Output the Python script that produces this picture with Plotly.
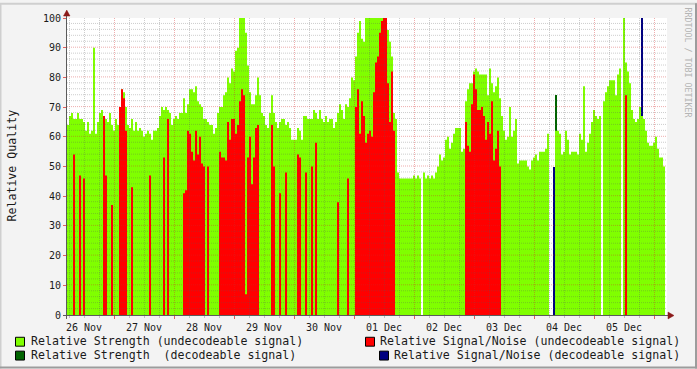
import plotly.graph_objects as go
from datetime import datetime, timedelta

# ---------------- data (one sample every 48 minutes) ----------------
START = datetime(2009, 11, 26, 5, 12)
STEP_MIN = 48

# Relative Strength (undecodeable signal)
strength_undec = [
    64, 67, 68, 66, 66, 68, 66, 66, 65, 62,
    65, 61, 62, 90, 61, 65, 68, 69, 67, 66,
    65, 68, 64, 62, 66, 64, 70, 76, 75, 70,
    64, 63, 66, 62, 65, 62, 63, 62, 60, 61,
    62, 61, 59, 62, 62, 63, 67, 70, 69, 70,
    69, 68, 64, 66, 67, 66, 68, 68, 73, 68,
    71, 76, 76, 75, 77, 72, 71, 70, 66, 66,
    65, 64, 64, 61, 63, 68, 70, 70, 74, 75,
    80, 78, 83, 82, 89, 90, 100, 100, 100, 95,
    84, 75, 71, 71, 74, 80, 74, 68, 67, 64,
    63, 68, 74, 68, 65, 63, 65, 66, 66, 64,
    65, 63, 59, 59, 59, 63, 62, 59, 67, 67,
    66, 66, 66, 69, 68, 66, 69, 66, 65, 67,
    65, 66, 66, 63, 65, 68, 71, 69, 66, 71,
    70, 73, 80, 79, 87, 95, 99, 93, 92, 100,
    100, 100, 100, 100, 100, 100, 100, 100, 100, 100,
    96, 92, 87, 68, 66, 48, 46, 46, 46, 46,
    46, 46, 46, 47, 46, 47, 46, 0, 48, 46,
    47, 46, 47, 46, 48, 50, 54, 52, 53, 59,
    60, 56, 58, 61, 63, 63, 63, 55, 56, 72,
    76, 78, 78, 82, 83, 82, 81, 81, 81, 81,
    74, 83, 78, 75, 77, 80, 73, 67, 62, 59,
    60, 70, 60, 62, 66, 51, 52, 52, 52, 52,
    50, 49, 52, 53, 54, 52, 55, 55, 55, 56,
    61, 0, 0, 0, 62, 62, 61, 54, 55, 62,
    59, 54, 55, 55, 55, 54, 61, 59, 77, 55,
    58, 61, 65, 69, 67, 66, 67, 0, 72, 75,
    77, 79, 79, 79, 74, 81, 83, 0, 100, 85,
    82, 78, 69, 66, 65, 66, 70, 67, 66, 62,
    58, 57, 57, 58, 60, 56, 53, 53, 50,
]

# Relative Signal/Noise (undecodeable signal)
snr_undec = [
    0, 0, 0, 54, 0, 0, 47, 0, 46, 0,
    0, 0, 0, 0, 0, 0, 0, 0, 67, 47,
    0, 0, 37, 0, 0, 0, 70, 76, 73, 62,
    0, 0, 43, 0, 0, 0, 0, 0, 0, 0,
    0, 47, 0, 0, 0, 0, 0, 0, 53, 0,
    66, 0, 0, 0, 0, 0, 0, 0, 41, 42,
    62, 61, 55, 52, 62, 54, 60, 51, 50, 0,
    50, 0, 0, 0, 0, 0, 55, 53, 53, 52,
    65, 59, 66, 66, 61, 64, 72, 76, 74, 7,
    53, 60, 44, 53, 63, 64, 0, 0, 0, 0,
    0, 0, 64, 50, 0, 0, 41, 0, 0, 48,
    0, 0, 0, 0, 0, 54, 53, 0, 0, 48,
    0, 0, 50, 0, 58, 0, 0, 0, 0, 0,
    0, 0, 0, 0, 0, 38, 0, 0, 0, 0,
    46, 0, 0, 0, 70, 76, 61, 72, 67, 58,
    61, 62, 60, 75, 85, 87, 95, 99, 100, 100,
    78, 65, 82, 62, 0, 0, 0, 0, 0, 0,
    0, 0, 0, 0, 0, 0, 0, 0, 0, 0,
    0, 0, 0, 0, 0, 0, 0, 0, 0, 0,
    0, 0, 0, 0, 0, 0, 0, 0, 0, 65,
    57, 55, 71, 81, 76, 69, 69, 70, 67, 59,
    65, 61, 72, 52, 56, 62, 50, 0, 0, 0,
    0, 0, 0, 0, 0, 0, 0, 0, 0, 0,
    0, 0, 0, 0, 0, 0, 0, 0, 0, 0,
    0, 0, 0, 0, 0, 0, 0, 0, 0, 0,
    0, 0, 0, 0, 0, 0, 0, 0, 0, 0,
    0, 0, 0, 0, 0, 0, 0, 0, 0, 0,
    0, 0, 0, 0, 0, 0, 0, 0, 0, 74,
    0, 0, 0, 0, 0, 0, 0, 0, 0, 0,
    0, 0, 0, 0, 0, 0, 0, 0, 0,
]

# Relative Strength (decodeable signal): sample index -> value
strength_dec_idx = [244, 281]
strength_dec_val = [74, 77]

# Relative Signal/Noise (decodeable signal): sample index -> value
snr_dec_idx = [243, 281, 287]
snr_dec_val = [50, 57, 100]

y_ticks = list(range(0, 101, 10))

legend_labels = [
    "Relative Strength (undecodeable signal)",
    "Relative Strength\u00a0 (decodeable signal)",
    "Relative Signal/Noise (undecodeable signal)",
    "Relative Signal/Noise (decodeable signal)",
]

C_LGREEN = "#80FF00"
C_DGREEN = "#006400"
C_RED = "#FF0000"
C_BLUE = "#000080"

# ---------------- helpers ----------------
step = timedelta(minutes=STEP_MIN)


def t(i):
    return START + i * step


def edges(vals):
    xs = [t(i) for i in range(len(vals) + 1)]
    ys = list(vals) + [vals[-1]]
    return xs, ys


W, H = 697, 369
L, R, T, B = 67, 667, 15, 315


def px(x):
    return (x - L) / (R - L)


def py(y):
    return (B - y) / (B - T)


FONT = "DejaVu Sans Mono"

fig = go.Figure()

xs, ys = edges(strength_undec)
fig.add_trace(go.Scatter(x=xs, y=ys, mode="lines", line=dict(width=0, shape="hv"),
                         fill="tozeroy", fillcolor=C_LGREEN, hoverinfo="skip",
                         name=legend_labels[0]))
fig.add_trace(go.Bar(x=[t(i) + step / 2 for i in strength_dec_idx], y=strength_dec_val,
                     width=[step.total_seconds() * 1000] * len(strength_dec_idx),
                     marker=dict(color=C_DGREEN, line=dict(width=0)),
                     name=legend_labels[1]))
xs, ys = edges(snr_undec)
fig.add_trace(go.Scatter(x=xs, y=ys, mode="lines", line=dict(width=0, shape="hv"),
                         fill="tozeroy", fillcolor=C_RED, hoverinfo="skip",
                         name=legend_labels[2]))
fig.add_trace(go.Bar(x=[t(i) + step / 2 for i in snr_dec_idx], y=snr_dec_val,
                     width=[step.total_seconds() * 1000] * len(snr_dec_idx),
                     marker=dict(color=C_BLUE, line=dict(width=0)),
                     name=legend_labels[3]))

x_end = START + timedelta(minutes=24 * (R - L))

shapes = []
# grid (drawn above the data, like rrdtool); shifted half a pixel so 1px lines stay crisp
GRID_MINOR = "rgba(90,90,90,0.30)"
GRID_MAJOR = "rgba(210,40,40,0.38)"
HALF_PX_T = timedelta(minutes=12)
HALF_PX_V = 0.5 / 3.0
day0 = datetime(START.year, START.month, START.day)
k = 1
while True:
    tt = day0 + timedelta(hours=6 * k)
    if tt >= x_end:
        break
    major = (tt.hour == 0)
    xx = tt + HALF_PX_T
    shapes.append(dict(type="line", xref="x", yref="paper", x0=xx, x1=xx, y0=0, y1=1,
                       layer="above",
                       line=dict(color=GRID_MAJOR if major else GRID_MINOR, width=1,
                                 dash="1px,1px")))
    k += 1
for v in range(2, 101, 2):
    major = (v % 10 == 0)
    yy = v + HALF_PX_V
    shapes.append(dict(type="line", xref="paper", yref="y", x0=0, x1=1, y0=yy, y1=yy,
                       layer="above",
                       line=dict(color=GRID_MAJOR if major else GRID_MINOR, width=1,
                                 dash="1px,1px")))

# axes
AX = "#5a5a5a"
ARROW = "#8B1A1A"
shapes.append(dict(type="line", xref="paper", yref="paper", x0=px(66.5), x1=px(66.5),
                   y0=py(319), y1=py(10), layer="above", line=dict(color=AX, width=1)))
shapes.append(dict(type="line", xref="paper", yref="paper", x0=px(63), x1=px(670),
                   y0=py(315.5), y1=py(315.5), layer="above", line=dict(color=AX, width=1)))
shapes.append(dict(type="path", xref="paper", yref="paper", layer="above",
                   path="M {} {} L {} {} L {} {} Z".format(px(63.5), py(13), px(70), py(13),
                                                           px(66.75), py(7)),
                   fillcolor=ARROW, line=dict(color=ARROW, width=0.5)))
shapes.append(dict(type="path", xref="paper", yref="paper", layer="above",
                   path="M {} {} L {} {} L {} {} Z".format(px(668), py(312), px(668), py(319),
                                                           px(674), py(315.5)),
                   fillcolor=ARROW, line=dict(color=ARROW, width=0.5)))

# frame of the image
shapes.append(dict(type="line", xref="paper", yref="paper", x0=px(0), x1=px(697),
                   y0=py(0.5), y1=py(0.5), line=dict(color="#CFCFCF", width=2)))
shapes.append(dict(type="line", xref="paper", yref="paper", x0=px(0.5), x1=px(0.5),
                   y0=py(0), y1=py(369), line=dict(color="#CFCFCF", width=2)))
shapes.append(dict(type="line", xref="paper", yref="paper", x0=px(0), x1=px(697),
                   y0=py(368), y1=py(368), line=dict(color="#9C9C9C", width=2)))
shapes.append(dict(type="line", xref="paper", yref="paper", x0=px(696), x1=px(696),
                   y0=py(0), y1=py(369), line=dict(color="#9C9C9C", width=2)))

# legend boxes
legend_boxes = [(15, 337, C_LGREEN), (15, 351, C_DGREEN), (365, 337, C_RED), (379, 351, C_BLUE)]
for bx, by, col in legend_boxes:
    shapes.append(dict(type="rect", xref="paper", yref="paper", x0=px(bx + 0.5), x1=px(bx + 9.5),
                       y0=py(by + 0.5), y1=py(by + 9.5), fillcolor=col,
                       line=dict(color="#000000", width=1)))

annotations = []
LEG_FONT = dict(family=FONT, size=11.6, color="#1a1a1a")
annotations.append(dict(text=legend_labels[0], xref="paper", yref="paper", x=px(28.5), y=py(341.5),
                        xanchor="left", yanchor="middle", showarrow=False, font=LEG_FONT))
annotations.append(dict(text=legend_labels[1], xref="paper", yref="paper", x=px(28.5), y=py(355.5),
                        xanchor="left", yanchor="middle", showarrow=False, font=LEG_FONT))
annotations.append(dict(text=legend_labels[2], xref="paper", yref="paper", x=px(682), y=py(341.5),
                        xanchor="right", yanchor="middle", showarrow=False, font=LEG_FONT))
annotations.append(dict(text=legend_labels[3], xref="paper", yref="paper", x=px(682), y=py(355.5),
                        xanchor="right", yanchor="middle", showarrow=False, font=LEG_FONT))
annotations.append(dict(text="Relative Quality", xref="paper", yref="paper", x=px(12), y=py(164),
                        xanchor="center", yanchor="middle", textangle=-90, showarrow=False,
                        font=LEG_FONT))
annotations.append(dict(text="RRDTOOL / TOBI OETIKER", xref="paper", yref="paper", x=px(688),
                        y=py(60), xanchor="center", yanchor="middle", textangle=90,
                        showarrow=False, font=dict(family=FONT, size=8.3, color="#B4B4B4")))

fig.update_layout(
    width=W, height=H,
    margin=dict(l=L, r=W - R, t=T, b=H - B, pad=0),
    paper_bgcolor="#F3F3F3",
    plot_bgcolor="#FFFFFF",
    showlegend=False,
    barmode="overlay",
    bargap=0,
    shapes=shapes,
    annotations=annotations,
    font=dict(family=FONT, size=10, color="#1a1a1a"),
)
fig.update_xaxes(
    type="date", range=[START, x_end], showgrid=False, zeroline=False, showline=False,
    tick0=day0, dtick=86400000, tickformat="%d %b", ticklabelmode="period",
    ticks="outside", ticklen=3, tickcolor="#E06060", tickwidth=1,
    tickfont=dict(family=FONT, size=10, color="#1a1a1a"),
    minor=dict(dtick=6 * 3600000, ticks="outside", ticklen=2, tickcolor="#C0C0C0", showgrid=False),
)
fig.update_yaxes(
    range=[0, 100], tickvals=y_ticks, showgrid=False, zeroline=False, showline=False,
    ticks="outside", ticklen=3, tickcolor="#E06060",
    tickfont=dict(family=FONT, size=10, color="#1a1a1a"),
)

fig.write_html("out.html")
